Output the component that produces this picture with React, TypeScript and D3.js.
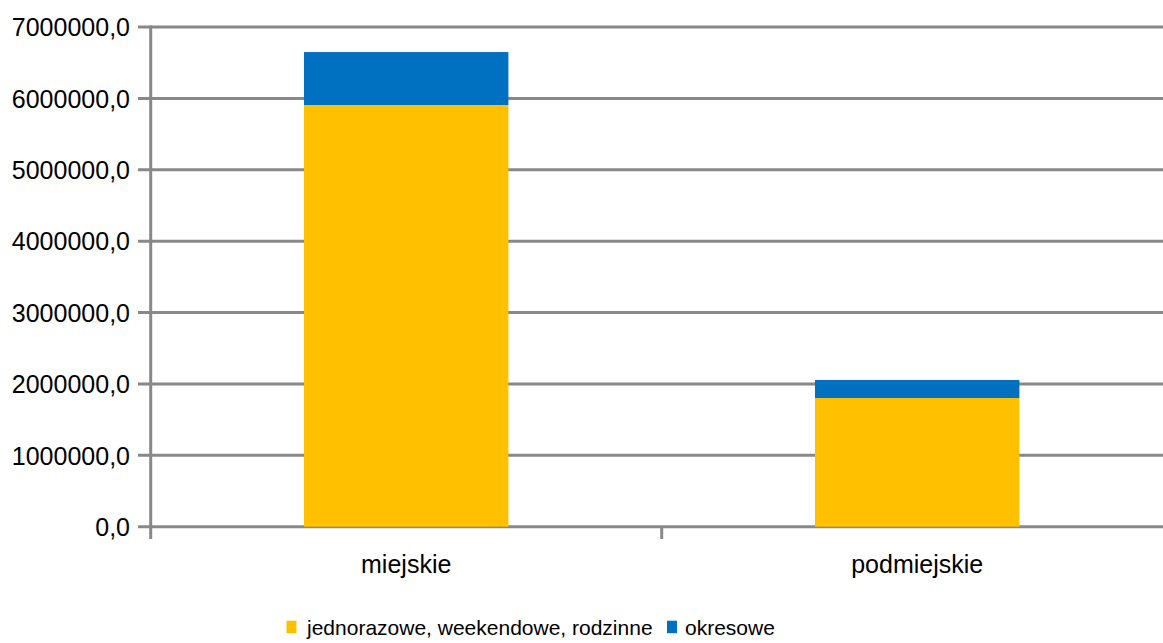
import React from "react";
import * as d3 from "d3";

const categories = ["miejskie", "podmiejskie"];
const seriesNames = ["jednorazowe, weekendowe, rodzinne", "okresowe"];
const jednorazowe = [5907000, 1803000];
const okresowe = [742000, 252000];
const yTicks = [0, 1000000, 2000000, 3000000, 4000000, 5000000, 6000000, 7000000];
const colors = ["#FFC000", "#0070C0"];

const W = 1163;
const H = 643;
const FONT = "'Liberation Sans', Arial, sans-serif";

export default function App() {
  const y = d3.scaleLinear().domain([0, 7000000]).range([526.7, 27]);
  const x = d3.scaleBand<string>().domain(categories).range([150.7, 1172.7]).padding(0);
  const bw = x.bandwidth() * 0.4;
  const rows = categories.map((c, i) => ({ cat: c, a: jednorazowe[i], b: okresowe[i] }));
  const stack = d3.stack<any>().keys(["a", "b"])(rows);
  const fmt = (v: number) => d3.format(".1f")(v).replace(".", ",");
  const axisX = x.range()[0];
  const grid = "#888888";

  return (
    <svg width={W} height={H} style={{ position: "fixed", left: 0, top: 0, background: "#fff" }} fontFamily={FONT}>
      {yTicks.map((t) => (
        <g key={t}>
          <line x1={138} x2={W} y1={y(t)} y2={y(t)} stroke={grid} strokeWidth={3} />
          <text x={130} y={y(t)} dy="0.37em" textAnchor="end" fontSize={25} fill="#000">
            {fmt(t)}
          </text>
        </g>
      ))}
      {stack.map((s, si) =>
        s.map((d, i) => (
          <rect
            key={si + "-" + i}
            x={(x(categories[i]) as number) + (x.bandwidth() - bw) / 2}
            width={bw}
            y={y(d[1])}
            height={y(d[0]) - y(d[1])}
            fill={colors[si]}
          />
        ))
      )}
      <line x1={axisX} x2={axisX} y1={y(7000000) - 1.5} y2={539} stroke={grid} strokeWidth={3} />
      {categories.slice(1).map((c) => (
        <line key={c} x1={x(c) as number} x2={x(c) as number} y1={y(0)} y2={539} stroke={grid} strokeWidth={3} />
      ))}
      {categories.map((c) => (
        <text key={c} x={(x(c) as number) + x.bandwidth() / 2} y={572.7} textAnchor="middle" fontSize={25} fill="#000">
          {c}
        </text>
      ))}
      <g>
        <rect x={286.5} y={620.7} width={10} height={12.5} fill={colors[0]} />
        <text x={307} y={635} fontSize={21} fill="#000">{seriesNames[0]}</text>
        <rect x={667} y={620.7} width={10} height={12.5} fill={colors[1]} />
        <text x={685} y={635} fontSize={21} fill="#000">{seriesNames[1]}</text>
      </g>
    </svg>
  );
}
